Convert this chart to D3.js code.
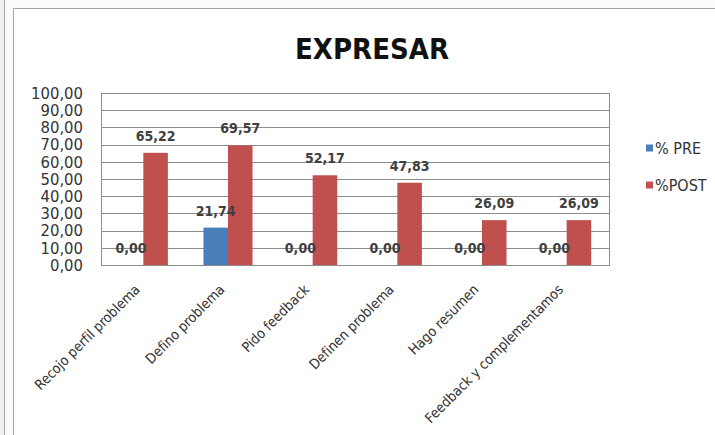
<!DOCTYPE html>
<html lang="es">
  <head>
    <meta charset="UTF-8" />
    <title>EXPRESAR</title>
    <script src="https://d3js.org/d3.v7.min.js"></script>
    <style>
      body {
        margin: 0;
        background: #f0f0f0;
      }
      svg {
        display: block;
      }
    </style>
  </head>
  <body>
    <svg id="chart" width="715" height="435"></svg>

    <script>
      const categories = [
        "Recojo perfil problema",
        "Defino problema",
        "Pido feedback",
        "Definen problema",
        "Hago resumen",
        "Feedback y complementamos",
      ];
      const seriesNames = ["% PRE", "%POST"];
      const preValues = [0, 21.74, 0, 0, 0, 0];
      const postValues = [65.22, 69.57, 52.17, 47.83, 26.09, 26.09];
      const yTicks = [0, 10, 20, 30, 40, 50, 60, 70, 80, 90, 100];
      const colors = ["#4a7ebb", "#c0504d"];

      const locale = d3.formatLocale({
        decimal: ",",
        thousands: ".",
        grouping: [3],
        currency: ["", ""],
      });
      const fmt = locale.format(".2f");

      const svg = d3.select("#chart");
      const font = "'Liberation Sans Narrow', 'DejaVu Sans Condensed', sans-serif";

      // frame bits around the chart
      svg.append("rect").attr("x", 5).attr("y", 0).attr("width", 710).attr("height", 435).attr("fill", "#fbfbfb");
      svg.append("rect").attr("x", 13.5).attr("y", 8.5).attr("width", 710).attr("height", 440)
        .attr("fill", "#fff").attr("stroke", "#a6a6a6");
      svg.append("line").attr("x1", 4.5).attr("x2", 4.5).attr("y1", 0).attr("y2", 435).attr("stroke", "#a6a6a6");

      const plot = { left: 101, right: 609, top: 93, bottom: 265 };

      const x0 = d3.scaleBand().domain(categories).range([plot.left, plot.right]).padding(0);
      const bw = x0.bandwidth() * 0.29;
      const x1 = d3
        .scaleBand()
        .domain(seriesNames)
        .range([x0.bandwidth() / 2 - bw, x0.bandwidth() / 2 + bw]);

      const y = d3.scaleLinear().domain([0, 100]).range([plot.bottom, plot.top]);

      // gridlines
      svg
        .append("g")
        .selectAll("line")
        .data(yTicks)
        .enter()
        .append("line")
        .attr("x1", plot.left)
        .attr("x2", plot.right)
        .attr("y1", (d) => Math.round(y(d)) + 0.5)
        .attr("y2", (d) => Math.round(y(d)) + 0.5)
        .attr("stroke", "#8c8c8c")
        .attr("stroke-width", 1);

      // plot border
      svg
        .append("rect")
        .attr("x", plot.left + 0.5)
        .attr("y", plot.top + 0.5)
        .attr("width", plot.right - plot.left)
        .attr("height", plot.bottom - plot.top)
        .attr("fill", "none")
        .attr("stroke", "#8c8c8c");

      // y axis labels
      const yAxis = svg
        .append("g")
        .attr("transform", `translate(${plot.left},0)`)
        .call(d3.axisLeft(y).tickValues(yTicks).tickFormat(fmt).tickSize(0).tickPadding(18));
      yAxis.select(".domain").remove();
      yAxis
        .selectAll("text")
        .attr("font-family", font)
        .attr("font-size", 16.5)
        .attr("fill", "#333");

      const rows = categories.map((c, i) => ({
        cat: c,
        vals: [
          { s: seriesNames[0], v: preValues[i] },
          { s: seriesNames[1], v: postValues[i] },
        ],
      }));

      const groups = svg
        .append("g")
        .selectAll("g")
        .data(rows)
        .enter()
        .append("g")
        .attr("transform", (d) => `translate(${x0(d.cat)},0)`);

      groups
        .selectAll("rect")
        .data((d) => d.vals)
        .enter()
        .append("rect")
        .attr("x", (d) => x1(d.s))
        .attr("y", (d) => y(d.v))
        .attr("width", x1.bandwidth())
        .attr("height", (d) => y(0) - y(d.v))
        .attr("fill", (d, i) => colors[i]);

      groups
        .selectAll("text")
        .data((d) => d.vals)
        .enter()
        .append("text")
        .attr("x", (d) => x1(d.s) + x1.bandwidth() / 2)
        .attr("y", (d) => y(d.v) - 12)
        .attr("text-anchor", "middle")
        .attr("font-family", font)
        .attr("font-size", 14)
        .attr("font-weight", "bold")
        .attr("fill", "#404040")
        .text((d) => fmt(d.v));

      // x axis labels
      const xAxis = svg
        .append("g")
        .attr("transform", `translate(0,${plot.bottom})`)
        .call(d3.axisBottom(x0).tickSize(0).tickPadding(0));
      xAxis.select(".domain").remove();
      xAxis
        .selectAll("text")
        .attr("font-family", font)
        .attr("font-size", 14)
        .attr("fill", "#333")
        .attr("text-anchor", "end")
        .attr("dy", "0.35em")
        .attr("transform", "translate(-6,22) rotate(-45)");

      // title
      svg
        .append("text")
        .attr("x", 372)
        .attr("y", 59)
        .attr("text-anchor", "middle")
        .attr("font-family", font)
        .attr("font-size", 29)
        .attr("font-weight", "bold")
        .attr("fill", "#111")
        .text("EXPRESAR");

      // legend
      const legend = svg
        .append("g")
        .selectAll("g")
        .data(seriesNames)
        .enter()
        .append("g")
        .attr("transform", (d, i) => `translate(646,${148 + i * 37})`);
      legend
        .append("rect")
        .attr("x", 0)
        .attr("y", -3.5)
        .attr("width", 7)
        .attr("height", 7)
        .attr("fill", (d, i) => colors[i]);
      legend
        .append("text")
        .attr("x", 9)
        .attr("dy", "0.35em")
        .attr("font-family", font)
        .attr("font-size", 16)
        .attr("fill", "#333")
        .text((d) => d);
    </script>
  </body>
</html>
